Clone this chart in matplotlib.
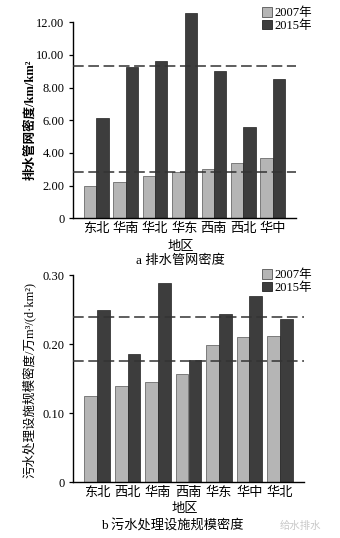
import matplotlib
matplotlib.use("Agg")
from matplotlib import pyplot as plt
from matplotlib.patches import Patch
import numpy as np

# panel a: drainage pipe network density (km/km2)
regions_a = ["东北", "华南", "华北", "华东", "西南", "西北", "华中"]
pipe_2007 = [1.95, 2.21, 2.60, 2.82, 3.01, 3.38, 3.67]
pipe_2015 = [6.17, 9.27, 9.66, 12.57, 9.00, 5.57, 8.52]
pipe_avg = [9.30, 2.82]

# panel b: sewage treatment capacity density (10^4 m3/(d*km2))
regions_b = ["东北", "西北", "华南", "西南", "华东", "华中", "华北"]
cap_2007 = [0.125, 0.139, 0.145, 0.157, 0.198, 0.210, 0.212]
cap_2015 = [0.249, 0.186, 0.288, 0.177, 0.243, 0.270, 0.237]
cap_avg = [0.239, 0.175]

LIGHT = "#b5b5b5"
DARK = "#3d3d3d"
FONT = ["Liberation Serif", "Noto Sans CJK SC"]
plt.rcParams["font.family"] = FONT
plt.rcParams["axes.unicode_minus"] = False

W, H = 340, 538
fig = plt.figure(figsize=(W / 100, H / 100), dpi=100)
fig.patch.set_facecolor("white")


def px_axes(left, top, right, bottom):
    return fig.add_axes([left / W, 1 - bottom / H, (right - left) / W, (bottom - top) / H])


def draw(ax, cats, v07, v15, avg, ylim, ticks, fmt, spine_top):
    x = np.arange(len(cats))
    w = 0.42
    ax.bar(x - w / 2, v07, w, color=LIGHT, edgecolor="#555555", linewidth=0.5)
    ax.bar(x + w / 2, v15, w, color=DARK, edgecolor="#222222", linewidth=0.5)
    for a in avg:
        ax.axhline(a, color="#333333", linestyle=(0, (7, 3)), linewidth=1.1, zorder=3)
    ax.set_xlim(-0.79, len(cats) - 1 + 0.79)
    ax.set_ylim(*ylim)
    ax.set_yticks(ticks)
    ax.set_yticklabels([fmt(t) for t in ticks], fontsize=9)
    ax.set_xticks(x)
    ax.set_xticklabels(cats, fontsize=9.5)
    ax.tick_params(axis="x", length=0, pad=3.5)
    ax.tick_params(axis="y", direction="out", length=3, width=0.9, pad=3)
    for s in ["top", "right"]:
        ax.spines[s].set_visible(False)
    ax.spines["left"].set_bounds(0, spine_top)
    ax.spines["left"].set_linewidth(1.0)
    ax.spines["bottom"].set_linewidth(1.0)
    ax.set_facecolor("white")


# panel a
ax1 = px_axes(73, 12.5, 296, 218.3)
draw(ax1, regions_a, pipe_2007, pipe_2015, pipe_avg, (0, 12.6),
     [0, 2, 4, 6, 8, 10, 12], lambda t: "0" if t == 0 else f"{t:.2f}", 12)
ax1.set_ylabel("排水管网密度/km/km²", fontsize=9, fontweight="bold")
ax1.yaxis.set_label_coords(-0.165, 0.478)

# panel b
ax2 = px_axes(73, 275, 304, 482.3)
draw(ax2, regions_b, cap_2007, cap_2015, cap_avg, (0, 0.30),
     [0, 0.1, 0.2, 0.3], lambda t: "0" if t == 0 else f"{t:.2f}", 0.30)
ax2.set_ylabel("污水处理设施规模密度/万m³/(d·km²)", fontsize=9)
ax2.yaxis.set_label_coords(-0.16, 0.493)

handles = [Patch(facecolor=LIGHT, edgecolor="#555555", linewidth=0.6, label="2007年"),
           Patch(facecolor=DARK, edgecolor="#222222", linewidth=0.6, label="2015年")]
for ax, yy in [(ax1, 7), (ax2, 269)]:
    fig.legend(handles=handles, loc="upper left", bbox_to_anchor=(262 / W, 1 - yy / H),
               frameon=False, fontsize=9, handlelength=0.8, handleheight=0.8,
               handletextpad=0.2, labelspacing=0.05, borderpad=0, borderaxespad=0)

# axis titles and captions
fig.text(181 / W, 1 - 247 / H, "地区", ha="center", va="center", fontsize=9.5)
fig.text(180 / W, 1 - 261 / H, "a 排水管网密度", ha="center", va="center", fontsize=9.5)
fig.text(185 / W, 1 - 509 / H, "地区", ha="center", va="center", fontsize=9.5)
fig.text(172 / W, 1 - 526 / H, "b 污水处理设施规模密度", ha="center", va="center", fontsize=9.5)
fig.text(300 / W, 1 - 526 / H, "给水排水", ha="center", va="center", fontsize=7.5,
         color="#c8c8c8")

fig.savefig("out.png", dpi=100, facecolor="white")
